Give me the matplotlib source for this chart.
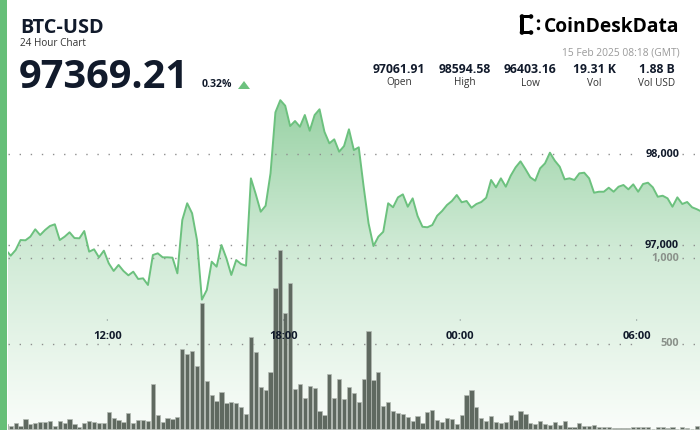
import numpy as np
import pandas as pd
import matplotlib
matplotlib.use('Agg')
import matplotlib.pyplot as plt
import matplotlib.dates as mdates
from matplotlib.colors import LinearSegmentedColormap
from matplotlib.patches import PathPatch, Rectangle, Circle, Polygon
from matplotlib.transforms import blended_transform_factory

# --- Data (10 minute candles over 24 hours) ---
START = '2025-02-14 08:33'
prices = [
    96948, 96886, 96948, 97058, 97055, 97095, 97176, 97113, 97168, 97212,
    97231, 97058, 97095, 97143, 97080, 97077, 97157, 96930, 96956, 96868,
    96941, 96802, 96718, 96784, 96718, 96670, 96710, 96630, 96637, 96564,
    96893, 96912, 96868, 96868, 96864, 96692, 97278, 97462, 97352, 97058,
    96403, 96509, 96820, 96765, 97003, 96857, 96674, 96838, 96794, 96776,
    97736, 97560, 97369, 97435, 97791, 98462, 98595, 98534, 98311, 98366,
    98303, 98432, 98259, 98432, 98495, 98248, 98121, 98165, 98029, 98091,
    98275, 98047, 98077, 97644, 97242, 96992, 97095, 97149, 97462, 97418,
    97527, 97560, 97424, 97516, 97322, 97204, 97198, 97223, 97325, 97377,
    97443, 97487, 97553, 97473, 97487, 97413, 97454, 97476, 97523, 97718,
    97637, 97736, 97644, 97765, 97857, 97923, 97838, 97747, 97710, 97846,
    97901, 98018, 97930, 97864, 97725, 97736, 97718, 97791, 97798, 97736,
    97578, 97589, 97589, 97633, 97589, 97644, 97663, 97615, 97670, 97589,
    97674, 97688, 97637, 97534, 97545, 97516, 97424, 97527, 97454, 97476,
    97418, 97396, 97369.21,
]
volumes = [
    30, 22, 36, 22, 59, 30, 36, 46, 46, 48,
    22, 48, 36, 59, 30, 17, 36, 50, 44, 40,
    36, 102, 65, 53, 44, 94, 38, 55, 55, 48,
    264, 83, 44, 65, 63, 73, 468, 439, 458, 370,
    740, 285, 201, 164, 221, 157, 162, 157, 131, 88,
    540, 452, 248, 230, 334, 826, 1047, 678, 853, 234,
    264, 184, 256, 244, 108, 85, 326, 184, 293, 176,
    250, 211, 162, 295, 575, 289, 334, 139, 158, 108,
    98, 88, 73, 50, 81, 36, 104, 116, 55, 42,
    67, 63, 32, 87, 201, 229, 131, 67, 52, 79,
    46, 40, 44, 85, 55, 108, 90, 40, 30, 48,
    32, 26, 44, 24, 52, 15, 17, 36, 20, 20,
    24, 15, 13, 13, 7, 7, 7, 9, 13, 17,
    17, 13, 5, 17, 17, 9, 13, 5, 13, 9,
    5, 22, 17,
]
price_ticks = [97000, 98000]
price_tick_labels = ['97,000', '98,000']
volume_ticks = [500, 1000]
volume_tick_labels = ['500', '1,000']
time_ticks = ['2025-02-14 12:00', '2025-02-14 18:00', '2025-02-15 00:00', '2025-02-15 06:00']
time_labels = ['12:00', '18:00', '00:00', '06:00']

stat_values = ['97061.91', '98594.58', '96403.16', '19.31 K', '1.88 B']
stat_names = ['Open', 'High', 'Low', 'Vol', 'Vol USD']

symbol = 'BTC-USD'
subtitle = '24 Hour Chart'
last_price = '97369.21'
change = '0.32%'
timestamp = '15 Feb 2025 08:18 (GMT)'

# --- Style ---
GREEN = '#66bf78'
LINE = '#6cc17e'
INK = '#111a2b'
BAR = '#5f6960'
DOTS = '#8e8e8e'
plt.rcParams['font.family'] = ['Open Sans', 'DejaVu Sans']

W, H = 700, 430
fig = plt.figure(figsize=(W / 100, H / 100), dpi=100)
fig.patch.set_facecolor('white')

# chart area spans x 8..700 px, y 90..430 px
ax = fig.add_axes([8 / W, 0, 692 / W, 340 / H])
vax = ax.twinx()
for a in (ax, vax):
    a.set_axis_off()
vax.patch.set_visible(False)

times = pd.date_range(START, periods=len(prices), freq='10min')
t = mdates.date2num(times.to_pydatetime())
x0 = mdates.date2num(pd.Timestamp('2025-02-14 08:37:26'))
x1 = mdates.date2num(pd.Timestamp('2025-02-15 08:09:11'))
ax.set_xlim(x0, x1)
vax.set_xlim(x0, x1)
p_lo, p_hi = 94970, 98707
ax.set_ylim(p_lo, p_hi)
vax.set_ylim(-3, 1981)

# gradient area under the price line
cmap = LinearSegmentedColormap.from_list(
    'area', [(0, '#97d1a3'), (0.45, '#cfead5'), (1, '#fafdfa')])
grad = np.linspace(0, 1, 256).reshape(-1, 1)
im = ax.imshow(grad, extent=[x0, x1, p_lo, 98652], aspect='auto',
               cmap=cmap, origin='upper', zorder=1, interpolation='bilinear')
area = ax.fill_between(t, prices, p_lo, facecolor='none', edgecolor='none')
clip = PathPatch(area.get_paths()[0], transform=ax.transData,
                 facecolor='none', edgecolor='none')
ax.add_patch(clip)
im.set_clip_path(clip)

# dotted grid lines, broken where the right-hand labels sit
seg_a = (0, (641 - 8) / 692)
seg_b = ((682 - 8) / 692, 1)
for a, ticks in ((ax, price_ticks), (vax, volume_ticks)):
    for v in ticks:
        for lo, hi in (seg_a, seg_b):
            a.axhline(v, lo, hi, color=DOTS, lw=1.0, ls=(0, (1, 7)), zorder=2)

# volume bars
vax.bar(t, volumes, width=10 / 1440 * 0.86, color=BAR, edgecolor='#b3bab3',
        linewidth=0.5, zorder=3)

# price line (drawn in the volume axes so it sits above the bars)
vax.plot(t, prices, color=LINE, lw=1.4, transform=ax.transData, zorder=4,
         solid_joinstyle='round')

# right-hand labels
lab_x = 679 / W
tr_p = blended_transform_factory(fig.transFigure, ax.transData)
for v, s in zip(price_ticks, price_tick_labels):
    fig.text(lab_x, v, s, transform=tr_p, ha='right', va='center',
             fontsize=7.8, fontweight='bold', color=INK)
tr_v = blended_transform_factory(fig.transFigure, vax.transData)
for v, s in zip(volume_ticks, volume_tick_labels):
    fig.text(lab_x, v, s, transform=tr_v, ha='right', va='center',
             fontsize=7.8, fontweight='bold', color='#8a918a')

# time labels inside the chart
tr_t = blended_transform_factory(ax.transData, fig.transFigure)
for ts, s in zip(time_ticks, time_labels):
    tx = mdates.date2num(pd.Timestamp(ts))
    fig.text(tx, 1 - 336.7 / H, s, transform=tr_t, ha='center', va='center',
             fontsize=8, fontweight='bold', color=INK)
    fig.add_artist(Circle((tx, 1 - 320 / H), 0.0008, transform=tr_t,
                          color=INK, lw=0))

# --- Header, laid out in pixel coordinates ---
hdr = fig.add_axes([0, 0, 1, 1])
hdr.set_xlim(0, W)
hdr.set_ylim(H, 0)
hdr.set_axis_off()
hdr.patch.set_visible(False)

hdr.add_patch(Rectangle((0, 0), 7, H, color=GREEN, lw=0))

hdr.text(20, 33.3, symbol, fontsize=14.3, fontweight='bold', color=INK, va='baseline')
hdr.text(20, 46.5, subtitle, fontsize=7.2, color='#333333', va='baseline')
hdr.text(19, 88.3, last_price, fontsize=28.6, fontweight='bold', color=INK, va='baseline')
hdr.text(202, 87.3, change, fontsize=7.6, fontweight='bold', color=INK, va='baseline')
hdr.add_patch(Polygon([[238, 89], [250, 89], [244, 81]], closed=True,
                      color=LINE, lw=0))

# logo
for cx, cy in ((522, 16.5), (522, 32.5), (531, 16.5), (531, 32.5)):
    hdr.add_patch(Circle((cx, cy), 2.3, color='black', lw=0))
hdr.add_patch(Rectangle((520, 16), 3.6, 17, color='black', lw=0))
hdr.add_patch(Rectangle((522, 14.8), 9, 3.4, color='black', lw=0))
hdr.add_patch(Rectangle((522, 30.8), 9, 3.4, color='black', lw=0))
hdr.add_patch(Circle((538.5, 21), 1.7, color='black', lw=0))
hdr.add_patch(Circle((538.5, 28.5), 1.7, color='black', lw=0))
hdr.text(544, 31.7, 'CoinDeskData', fontsize=13.8, fontweight='bold',
         color='black', va='baseline')

hdr.text(680, 55.3, timestamp, fontsize=7.4, color='#9a9a9a', ha='right', va='baseline')

stat_x = [399, 465, 530, 594, 657]
for sx, val, name in zip(stat_x, stat_values, stat_names):
    hdr.text(sx, 73.3, val, fontsize=8.8, fontweight='bold', color=INK,
             ha='center', va='baseline')
    hdr.text(sx, 85.5, name, fontsize=7.2, color='#333333', ha='center', va='baseline')

fig.savefig('out.png', dpi=100)
